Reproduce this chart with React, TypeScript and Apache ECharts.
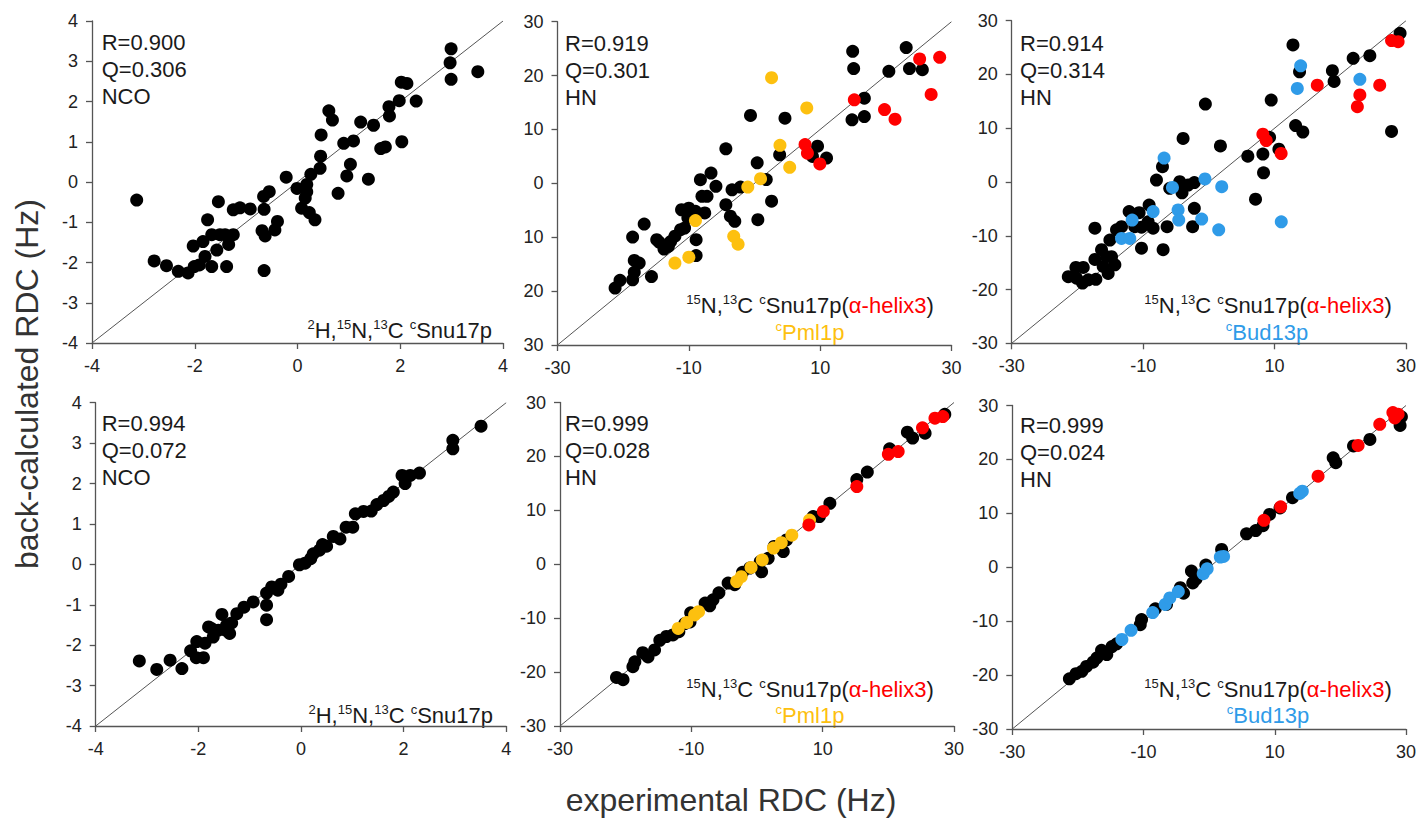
import React, { useEffect, useRef } from "react";
import * as echarts from "echarts";

type Pt = [number, number];

// ---------- data (experimental, back-calculated) ----------
const nco1Black: Pt[] = [
  [-3.13, -0.45], [-2.79, -1.96], [-2.55, -2.08], [-2.32, -2.22], [-2.13, -2.26], [-2.01, -2.1], [-1.91, -2.06],
  [-1.8, -1.85], [-1.67, -2.1], [-1.38, -2.1], [-2.03, -1.59], [-1.84, -1.48], [-1.75, -0.94], [-1.54, -0.49],
  [-1.57, -1.69], [-1.67, -1.31], [-1.51, -1.31], [-1.41, -1.31], [-1.34, -1.55], [-1.25, -1.31], [-1.25, -0.69],
  [-1.12, -0.64], [-0.92, -0.67], [-0.65, -0.68], [-0.66, -0.36], [-0.55, -0.24], [-0.69, -1.21], [-0.63, -1.34],
  [-0.65, -2.2], [-0.44, -1.19], [-0.39, -0.98], [-0.22, 0.12], [-0.01, -0.16], [0.08, -0.65], [0.18, -0.24],
  [0.18, -0.06], [0.26, 0.19], [0.15, -0.4], [0.23, -0.76], [0.34, -0.94], [0.44, 0.34], [0.45, 0.64], [0.46, 1.17],
  [0.61, 1.77], [0.68, 1.54], [0.79, -0.28], [0.9, 0.96], [1.09, 1.02], [1.03, 0.44], [0.96, 0.15], [1.23, 1.49],
  [1.38, 0.07], [1.48, 1.41], [1.62, 0.83], [1.71, 0.87], [1.78, 1.87], [1.79, 1.64], [1.98, 2.02], [2.03, 1.0],
  [2.02, 2.48], [2.13, 2.45], [2.31, 2.01], [2.99, 3.31], [2.97, 2.96], [2.99, 2.55], [3.51, 2.74],
];

const hn2Black: Pt[] = [
  [-21.23, -19.43], [-20.48, -18.0], [-18.56, -17.9], [-18.31, -16.5], [-18.31, -14.3], [-17.56, -14.8],
  [-18.56, -9.96], [-16.8, -7.55], [-15.69, -17.3], [-14.89, -10.46], [-14.53, -10.9], [-13.78, -12.2],
  [-13.12, -11.7], [-12.77, -10.8], [-12.12, -9.8], [-11.26, -8.6], [-10.65, -8.3], [-11.11, -4.9], [-10.0, -4.6],
  [-9.5, -5.5], [-10.15, -6.4], [-8.99, -5.2], [-8.89, -10.46], [-8.89, -13.4], [-8.24, 0.68], [-8.0, -2.4],
  [-7.58, -5.5], [-7.23, -2.4], [-6.62, 1.9], [-5.87, -0.56], [-4.36, 6.4], [-4.36, -3.96], [-3.67, -6.1],
  [-3.0, -7.05], [-3.42, -1.2], [-2.14, -0.7], [-0.61, 12.6], [0.41, 3.8], [0.51, -6.75], [1.79, 0.7], [2.6, -3.3],
  [3.83, 5.3], [4.64, 12.1], [9.6, 6.9], [8.83, 5.0], [10.97, 4.7], [14.95, 24.5], [15.1, 21.3], [14.85, 11.8],
  [16.73, 15.8], [16.73, 12.4], [20.46, 20.8], [23.1, 25.2], [23.6, 21.3], [25.56, 21.1],
];
const hn2Red: Pt[] = [
  [15.2, 15.5], [19.8, 13.7], [21.4, 11.9], [25.15, 23.1], [28.2, 23.4], [26.9, 16.5], [7.7, 7.2], [8.06, 5.6],
  [9.95, 3.6],
];
const hn2Gold: Pt[] = [
  [2.6, 19.6], [7.96, 14.0], [3.88, 7.05], [5.36, 2.97], [0.92, 0.87], [-1.02, -0.68], [-3.16, -9.84],
  [-2.5, -11.3], [-8.99, -6.9], [-12.12, -14.8], [-10.0, -13.7],
];

const hn3Black: Pt[] = [
  [-21.39, -17.6], [-20.23, -15.9], [-19.11, -15.9], [-20.13, -17.9], [-19.22, -18.8], [-18.35, -18.2],
  [-17.19, -18.1], [-17.34, -8.6], [-17.34, -14.4], [-16.33, -12.6], [-15.57, -13.9], [-16.08, -15.7],
  [-15.32, -17.0], [-14.81, -13.9], [-14.3, -15.4], [-15.06, -10.8], [-14.05, -8.9], [-13.29, -8.3],
  [-12.13, -5.5], [-10.61, -5.7], [-11.27, -8.3], [-10.25, -8.4], [-9.24, -7.4], [-8.48, -8.6], [-9.09, -4.3],
  [-10.25, -12.3], [-7.97, 0.37], [-6.96, -12.6], [-6.35, -8.3], [-7.06, 2.85], [-5.95, -1.18], [-4.43, 0.06],
  [-3.92, 8.1], [-4.08, -2.0], [-3.16, -0.56], [-0.53, 14.5], [-2.21, -4.9], [-2.47, -8.3], [-2.21, -0.1],
  [1.76, 6.7], [5.93, 4.8], [8.22, 5.2], [8.32, 1.7], [7.1, -3.2], [9.49, 15.25], [9.24, 8.3], [10.66, 6.1],
  [12.8, 25.5], [13.8, 20.5], [13.2, 10.5], [14.3, 9.3], [18.8, 20.7], [19.06, 18.7], [21.96, 23.0], [24.5, 23.5],
  [27.8, 9.4], [29.1, 27.65],
];
const hn3Red: Pt[] = [
  [16.5, 18.0], [26.0, 18.0], [22.98, 16.2], [22.6, 14.0], [27.8, 26.3], [28.8, 26.1], [8.22, 8.9], [8.73, 7.7],
  [11.0, 5.3],
];
const hn3Blue: Pt[] = [
  [-6.81, 4.46], [-5.54, -1.0], [-4.68, -5.2], [-4.58, -7.07], [-8.48, -5.5], [-11.67, -7.07], [-13.29, -10.5],
  [-12.03, -10.5], [-1.09, -6.9], [-0.59, 0.56], [13.97, 21.6], [13.46, 17.4], [22.98, 19.1], [1.96, -0.87],
  [1.5, -8.9], [11.02, -7.4],
];

const nco4Black: Pt[] = [
  [-3.15, -2.39], [-2.81, -2.6], [-2.55, -2.37], [-2.32, -2.58], [-2.15, -2.14], [-2.04, -2.31], [-2.03, -1.91],
  [-1.9, -2.31], [-1.87, -1.95], [-1.8, -1.55], [-1.71, -1.8], [-1.61, -1.63], [-1.54, -1.24], [-1.48, -1.62],
  [-1.39, -1.71], [-1.35, -1.45], [-1.74, -1.59], [-1.45, -1.51], [-1.25, -1.22], [-1.11, -1.06], [-0.93, -0.93],
  [-0.67, -1.01], [-0.67, -1.37], [-0.67, -0.71], [-0.57, -0.56], [-0.45, -0.64], [-0.39, -0.49], [-0.24, -0.3],
  [-0.03, -0.01], [0.08, 0.03], [0.19, 0.14], [0.24, 0.26], [0.36, 0.35], [0.42, 0.49], [0.5, 0.45], [0.63, 0.69],
  [0.76, 0.63], [0.88, 0.92], [1.01, 0.92], [1.06, 1.25], [1.22, 1.31], [1.37, 1.32], [1.48, 1.48], [1.61, 1.58],
  [1.71, 1.68], [1.8, 1.79], [1.97, 2.2], [2.03, 2.0], [2.13, 2.2], [2.31, 2.26], [2.96, 3.07], [2.96, 2.86],
  [3.51, 3.42],
];

const hn5Black: Pt[] = [
  [-21.4, -21.0], [-20.4, -21.4], [-18.9, -19.0], [-18.6, -18.1], [-17.4, -16.4], [-16.6, -17.2], [-15.6, -15.9],
  [-14.8, -14.1], [-13.8, -13.4], [-12.8, -13.1], [-11.9, -12.5], [-11.0, -11.0], [-10.1, -9.0], [-10.2, -10.7],
  [-7.9, -7.2], [-7.2, -7.7], [-6.7, -6.6], [-5.8, -5.3], [-4.4, -3.5], [-3.4, -3.8], [-2.2, -1.5], [-1.1, -0.7],
  [0.7, -1.4], [0.5, 0.5], [1.7, 1.1], [2.6, 3.3], [4.0, 2.35], [4.5, 4.5], [8.55, 8.85], [9.5, 8.85], [11.1, 11.3],
  [15.2, 15.7], [16.8, 17.1], [20.2, 21.4], [22.9, 24.5], [23.7, 23.4], [25.6, 24.3], [28.6, 27.8],
];
const hn5Gold: Pt[] = [
  [-12.0, -11.9], [-10.7, -10.8], [-9.5, -9.4], [-8.9, -8.8], [-3.1, -3.2], [-2.4, -2.3], [-0.9, -0.6],
  [0.8, 0.8], [2.5, 3.0], [3.7, 4.0], [5.3, 5.4], [8.0, 8.2],
];
const hn5Red: Pt[] = [
  [7.9, 7.3], [10.1, 9.8], [15.2, 14.4], [20.0, 20.4], [21.5, 20.9], [25.2, 25.3], [27.1, 27.1], [28.3, 27.4],
];

const hn6Black: Pt[] = [
  [-21.3, -20.7], [-20.3, -19.75], [-19.4, -19.3], [-18.7, -18.4], [-17.7, -17.6], [-17.1, -16.8], [-16.4, -15.4],
  [-15.6, -16.2], [-14.8, -14.7], [-14.1, -14.2], [-10.5, -10.65], [-10.3, -9.7], [-8.2, -7.7], [-6.5, -6.9],
  [-4.4, -3.8], [-3.9, -4.8], [-2.7, -0.7], [-2.5, -2.9], [-2.0, -2.2], [-0.5, 0.4], [1.9, 3.3], [5.7, 6.2],
  [7.1, 6.8], [8.2, 7.7], [9.2, 9.8], [10.8, 11.0], [12.7, 12.9], [18.9, 20.3], [19.3, 19.4], [22.0, 22.5],
  [24.5, 23.7], [29.1, 26.3], [29.3, 27.9],
];
const hn6Blue: Pt[] = [
  [-13.3, -13.4], [-11.9, -11.7], [-8.6, -8.4], [-6.7, -6.9], [-6.0, -5.7], [-4.7, -4.5], [-0.9, -1.2],
  [-0.3, -0.3], [1.7, 1.9], [2.2, 2.0], [13.8, 13.7], [14.2, 14.1],
];
const hn6Red: Pt[] = [
  [8.35, 8.7], [10.9, 11.2], [16.6, 16.9], [22.7, 22.6], [26.0, 26.5], [28.3, 27.7], [28.0, 28.7], [28.8, 28.4],
];

// ---------- panel text ----------
const statsText = [
  ["R=0.900", "Q=0.306", "NCO"],
  ["R=0.919", "Q=0.301", "HN"],
  ["R=0.914", "Q=0.314", "HN"],
  ["R=0.994", "Q=0.072", "NCO"],
  ["R=0.999", "Q=0.028", "HN"],
  ["R=0.999", "Q=0.024", "HN"],
];
// y tick labels of the top-middle panel (as printed, negatives without sign)
const topMidYValues = [30, 20, 10, 0, -10, -20, -30];
const topMidYLabels = ["30", "20", "10", "0", "10", "20", "30"];

const X_TITLE = "experimental RDC (Hz)";
const Y_TITLE = "back-calculated RDC (Hz)";

// ---------- style ----------
const FONT = "'Liberation Sans', Arial, Helvetica, sans-serif";
const AXIS_COLOR = "#555";
const TEXT = "#1a1a1a";
const BLACK = "#000000";
const RED = "#ff0000";
const GOLD = "#fdc00f";
const BLUE = "#2f9be8";

const grids = [
  { left: 92, top: 21, width: 411, height: 322 },
  { left: 557.5, top: 21.7, width: 394, height: 323.3 },
  { left: 1011.7, top: 20.7, width: 394.3, height: 322.6 },
  { left: 95.7, top: 402.7, width: 410.5, height: 323.3 },
  { left: 560, top: 402.5, width: 394, height: 323.5 },
  { left: 1012.3, top: 405.5, width: 393.7, height: 323.5 },
];

const statPos = [
  [101.7, 29], [565, 30], [1020, 29.5], [101.7, 409.5], [565, 409.5], [1020, 411.5],
];

function xAxis(i: number, small: boolean) {
  return {
    type: "value",
    gridIndex: i,
    min: small ? -4 : -30,
    max: small ? 4 : 30,
    interval: small ? 2 : 20,
    axisLine: { show: true, onZero: false, lineStyle: { color: AXIS_COLOR, width: 1.3 } },
    axisTick: { show: true, length: 6, inside: false, lineStyle: { color: AXIS_COLOR, width: 1.3 } },
    splitLine: { show: false },
    axisLabel: { color: "#222", fontSize: 18, fontFamily: FONT, margin: 14 },
  };
}
function yAxis(i: number, small: boolean, formatter?: (v: number) => string) {
  return {
    type: "value",
    gridIndex: i,
    min: small ? -4 : -30,
    max: small ? 4 : 30,
    interval: small ? 1 : 10,
    axisLine: { show: true, onZero: false, lineStyle: { color: AXIS_COLOR, width: 1.3 } },
    axisTick: { show: true, length: 6, inside: false, lineStyle: { color: AXIS_COLOR, width: 1.3 } },
    splitLine: { show: false },
    axisLabel: { color: "#222", fontSize: 18, fontFamily: FONT, margin: 14, ...(formatter ? { formatter } : {}) },
  };
}

function scatter(i: number, data: Pt[], color: string, z: number) {
  return {
    type: "scatter",
    xAxisIndex: i,
    yAxisIndex: i,
    data,
    symbol: "circle",
    symbolSize: 13,
    itemStyle: { color, opacity: 1 },
    z,
    silent: true,
  };
}
function diag(i: number, lim: number) {
  return {
    type: "line",
    xAxisIndex: i,
    yAxisIndex: i,
    data: [[-lim, -lim], [lim, lim]],
    symbol: "none",
    lineStyle: { color: "#555", width: 1 },
    z: 1,
    silent: true,
  };
}

const rich = {
  m: { fontSize: 22, fontFamily: FONT, fill: TEXT, lineHeight: 26, verticalAlign: "bottom" },
  s: { fontSize: 13, fontFamily: FONT, fill: TEXT, lineHeight: 26, verticalAlign: "top", padding: [3, 0, 0, 0] },
  r: { fontSize: 22, fontFamily: FONT, fill: RED, lineHeight: 26, verticalAlign: "bottom" },
  gs: { fontSize: 13, fontFamily: FONT, fill: GOLD, lineHeight: 26, verticalAlign: "top", padding: [3, 0, 0, 0] },
  g: { fontSize: 22, fontFamily: FONT, fill: GOLD, lineHeight: 26, verticalAlign: "bottom" },
  bs: { fontSize: 13, fontFamily: FONT, fill: BLUE, lineHeight: 26, verticalAlign: "top", padding: [3, 0, 0, 0] },
  b: { fontSize: 22, fontFamily: FONT, fill: BLUE, lineHeight: 26, verticalAlign: "bottom" },
};

const NCO_LABEL = "{s|2}{m|H,}{s|15}{m|N,}{s|13}{m|C }{s|c}{m|Snu17p}";
const HN_LABEL = "{s|15}{m|N,}{s|13}{m|C }{s|c}{m|Snu17p(}{r|α-helix3}{m|)}";
const PML_LABEL = "{gs|c}{g|Pml1p}";
const BUD_LABEL = "{bs|c}{b|Bud13p}";

function richText(text: string, x: number, y: number, align: string) {
  return {
    type: "text",
    x,
    y,
    silent: true,
    style: { text, rich, align, verticalAlign: "middle", fontFamily: FONT, fontSize: 22 },
  };
}

function buildOption() {
  const graphic: any[] = [];
  statsText.forEach((lines, i) => {
    graphic.push({
      type: "text",
      x: statPos[i][0],
      y: statPos[i][1],
      silent: true,
      style: {
        text: lines.join("\n"),
        fontSize: 22,
        fontFamily: FONT,
        lineHeight: 27,
        fill: TEXT,
        align: "left",
        verticalAlign: "top",
      },
    });
  });
  graphic.push(richText(NCO_LABEL, 492, 328, "right"));
  graphic.push(richText(NCO_LABEL, 493, 713, "right"));
  graphic.push(richText(HN_LABEL, 810, 303, "center"));
  graphic.push(richText(PML_LABEL, 810, 330, "center"));
  graphic.push(richText(HN_LABEL, 1268, 303, "center"));
  graphic.push(richText(BUD_LABEL, 1267, 330, "center"));
  graphic.push(richText(HN_LABEL, 810, 687, "center"));
  graphic.push(richText(PML_LABEL, 810, 713, "center"));
  graphic.push(richText(HN_LABEL, 1268, 687, "center"));
  graphic.push(richText(BUD_LABEL, 1268, 713, "center"));
  graphic.push({
    type: "text",
    x: 731,
    y: 800,
    silent: true,
    style: { text: X_TITLE, fontSize: 32, fontFamily: FONT, fill: "#333", align: "center", verticalAlign: "middle" },
  });
  graphic.push({
    type: "text",
    x: 26.7,
    y: 384,
    rotation: Math.PI / 2,
    silent: true,
    style: { text: Y_TITLE, fontSize: 32, fontFamily: FONT, fill: "#333", align: "center", verticalAlign: "middle" },
  });

  const topMidFmt = (v: number) => {
    const k = topMidYValues.indexOf(v);
    return k >= 0 ? topMidYLabels[k] : String(v);
  };

  return {
    animation: false,
    backgroundColor: "#ffffff",
    grid: grids.map((g) => ({ ...g, containLabel: false, outerBoundsMode: "none" })),
    xAxis: [xAxis(0, true), xAxis(1, false), xAxis(2, false), xAxis(3, true), xAxis(4, false), xAxis(5, false)],
    yAxis: [
      yAxis(0, true),
      yAxis(1, false, topMidFmt),
      yAxis(2, false),
      yAxis(3, true),
      yAxis(4, false),
      yAxis(5, false),
    ],
    series: [
      diag(0, 4), scatter(0, nco1Black, BLACK, 3),
      diag(1, 30), scatter(1, hn2Black, BLACK, 3), scatter(1, hn2Red, RED, 4), scatter(1, hn2Gold, GOLD, 5),
      diag(2, 30), scatter(2, hn3Black, BLACK, 3), scatter(2, hn3Red, RED, 4), scatter(2, hn3Blue, BLUE, 5),
      diag(3, 4), scatter(3, nco4Black, BLACK, 3),
      diag(4, 30), scatter(4, hn5Black, BLACK, 3), scatter(4, hn5Gold, GOLD, 4), scatter(4, hn5Red, RED, 5),
      diag(5, 30), scatter(5, hn6Black, BLACK, 3), scatter(5, hn6Blue, BLUE, 4), scatter(5, hn6Red, RED, 5),
    ],
    graphic,
  };
}

export default function App() {
  const ref = useRef<HTMLDivElement>(null);
  useEffect(() => {
    document.body.style.margin = "0";
    const chart = echarts.init(ref.current!, null, { renderer: "svg" });
    chart.setOption(buildOption() as any);
    return () => chart.dispose();
  }, []);
  return <div ref={ref} style={{ width: 1421, height: 818, background: "#fff" }} />;
}
